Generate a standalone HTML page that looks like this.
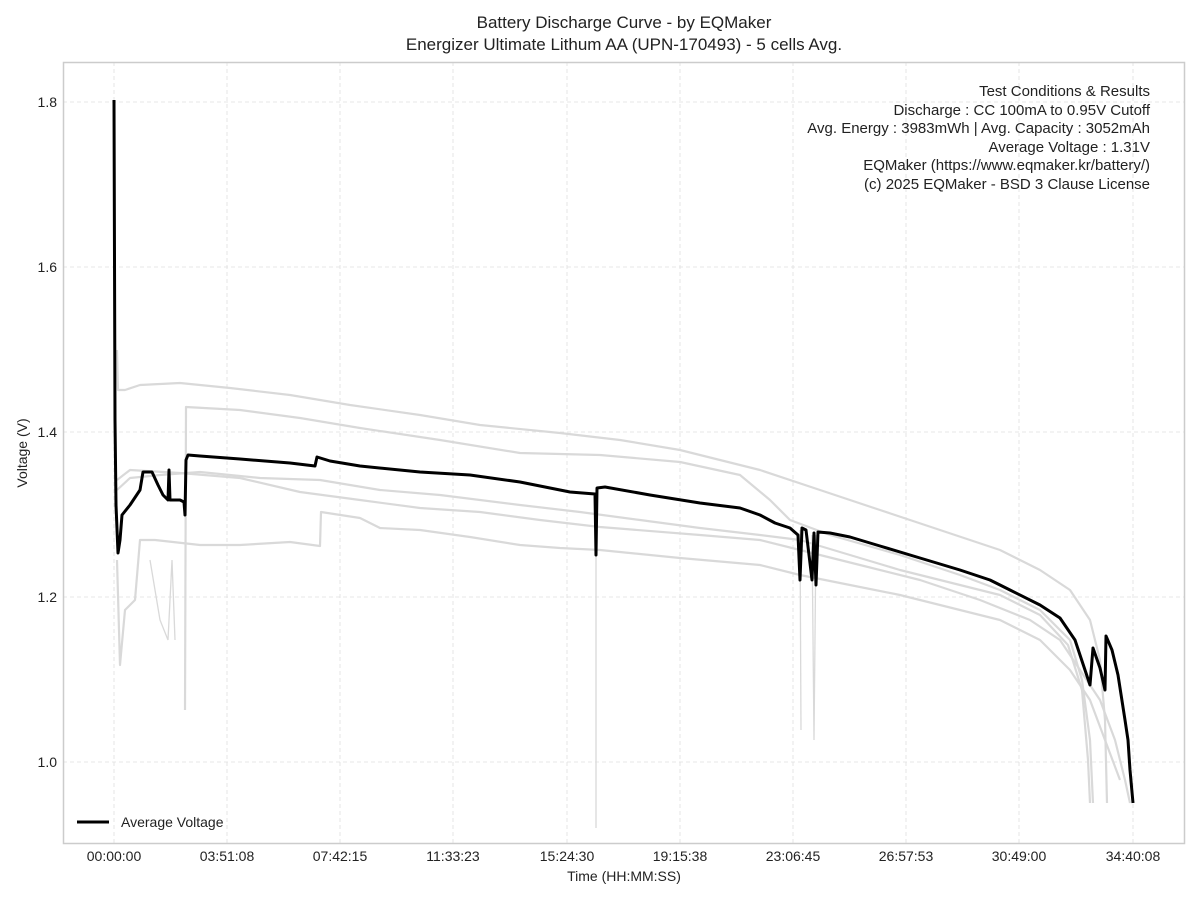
<!DOCTYPE html>
<html><head><meta charset="utf-8"><style>
body{margin:0;background:#fff;}
svg{display:block;font-family:"Liberation Sans",Arial,sans-serif;}
</style></head><body>
<svg width="1200" height="900" viewBox="0 0 1200 900">
<rect width="1200" height="900" fill="#fff"/>
<g stroke="#e0e0e0" stroke-width="0.8" stroke-dasharray="4,3">
<line x1="114" y1="62" x2="114" y2="843"/><line x1="227" y1="62" x2="227" y2="843"/><line x1="340" y1="62" x2="340" y2="843"/><line x1="453" y1="62" x2="453" y2="843"/><line x1="567" y1="62" x2="567" y2="843"/><line x1="680" y1="62" x2="680" y2="843"/><line x1="793" y1="62" x2="793" y2="843"/><line x1="906" y1="62" x2="906" y2="843"/><line x1="1019" y1="62" x2="1019" y2="843"/><line x1="1133" y1="62" x2="1133" y2="843"/>
<line x1="63" y1="102" x2="1184" y2="102"/><line x1="63" y1="267" x2="1184" y2="267"/><line x1="63" y1="432" x2="1184" y2="432"/><line x1="63" y1="597" x2="1184" y2="597"/><line x1="63" y1="762" x2="1184" y2="762"/>
</g>
<g fill="none" stroke="#d9d9d9" stroke-width="2.2" stroke-linejoin="round">
<polyline points="117,350 118,390 125,390 140,385 180,383 230,388 290,395 350,405 420,415 480,425 560,433 620,440 680,450 760,470 820,490 880,510 940,530 1000,550 1040,570 1070,590 1090,620 1100,660 1105,720 1107,803"/>
<polyline points="185,710 186,407 240,410 300,418 360,428 440,440 520,453 600,455 680,462 740,475 770,500 790,520 830,535 900,555 960,575 1000,590 1040,610 1070,640 1082,680 1090,740 1093,803"/>
<polyline points="117,490 130,478 160,475 200,472 260,478 320,480 380,490 440,495 520,505 580,512 640,520 700,528 760,535 800,540 850,555 900,570 960,585 1000,595 1040,615 1068,645 1082,690 1088,760 1090,803"/>
<polyline points="117,480 130,470 180,473 240,478 300,492 360,500 420,508 480,512 540,520 600,527 700,535 760,540 800,550 860,565 920,580 980,600 1030,620 1060,640 1080,670 1100,700 1115,740 1125,780 1130,803"/>
<polyline points="117,560 120,665 125,610 135,600 140,540 155,540 200,545 240,545 290,542 320,546 321,512 360,518 380,528 420,530 470,537 520,545 560,548 600,550 680,558 760,565 800,575 850,585 900,595 960,610 1000,620 1040,640 1070,670 1090,700 1105,740 1120,780"/>
</g>
<g fill="none" stroke="#d9d9d9" stroke-width="1.3">
<polyline points="150,560 160,620 168,640 172,560 175,640"/>
<polyline points="596,500 596,828"/><polyline points="800,530 801,730"/><polyline points="812,535 814,740 816,535"/>
</g>
<polyline fill="none" stroke="#000" stroke-width="3" stroke-linejoin="round" points="114,100 115,420 116,505 118,553 120,540 122,515 130,505 140,490 143,472 152,472 158,485 163,495 168,500 169,470 170,500 180,500 184,502 185,515 186,460 188,455 200,456 240,459 290,463 315,466 317,457 330,461 360,466 420,472 470,475 520,482 570,492 595,494 596,555 597,488 605,487 650,495 700,503 740,508 760,515 775,523 790,528 798,535 800,580 802,528 806,530 812,580 814,533 816,585 818,532 830,533 850,537 880,546 920,558 960,570 990,580 1010,590 1040,605 1060,618 1075,640 1085,670 1090,685 1093,648 1100,668 1105,690 1106,636 1112,650 1118,675 1125,720 1128,740 1130,770 1133,803"/>
<rect x="63.5" y="62.5" width="1121" height="781" fill="none" stroke="#cccccc" stroke-width="1.5"/>
<g font-size="14" fill="#222" text-anchor="end">
<text x="57" y="107">1.8</text><text x="57" y="272">1.6</text><text x="57" y="437">1.4</text><text x="57" y="602">1.2</text><text x="57" y="767">1.0</text>
</g>
<g font-size="14" fill="#222" text-anchor="middle">
<text x="114" y="861">00:00:00</text><text x="227" y="861">03:51:08</text><text x="340" y="861">07:42:15</text><text x="453" y="861">11:33:23</text><text x="567" y="861">15:24:30</text><text x="680" y="861">19:15:38</text><text x="793" y="861">23:06:45</text><text x="906" y="861">26:57:53</text><text x="1019" y="861">30:49:00</text><text x="1133" y="861">34:40:08</text>
<text x="624" y="881">Time (HH:MM:SS)</text>
<text x="624" y="28" font-size="17">Battery Discharge Curve - by EQMaker</text>
<text x="624" y="50" font-size="17">Energizer Ultimate Lithum AA (UPN-170493) - 5 cells Avg.</text>
</g>
<text transform="translate(27,453) rotate(-90)" font-size="14" fill="#222" text-anchor="middle">Voltage (V)</text>
<g font-size="15" fill="#222" text-anchor="end">
<text x="1150" y="96">Test Conditions &amp; Results</text>
<text x="1150" y="115">Discharge : CC 100mA to 0.95V Cutoff</text>
<text x="1150" y="133">Avg. Energy : 3983mWh | Avg. Capacity : 3052mAh</text>
<text x="1150" y="152">Average Voltage : 1.31V</text>
<text x="1150" y="170">EQMaker (https://www.eqmaker.kr/battery/)</text>
<text x="1150" y="189">(c) 2025 EQMaker - BSD 3 Clause License</text>
</g>
<line x1="77" y1="822" x2="109" y2="822" stroke="#000" stroke-width="3"/>
<text x="121" y="827" font-size="14" fill="#222">Average Voltage</text>
</svg>
</body></html>
